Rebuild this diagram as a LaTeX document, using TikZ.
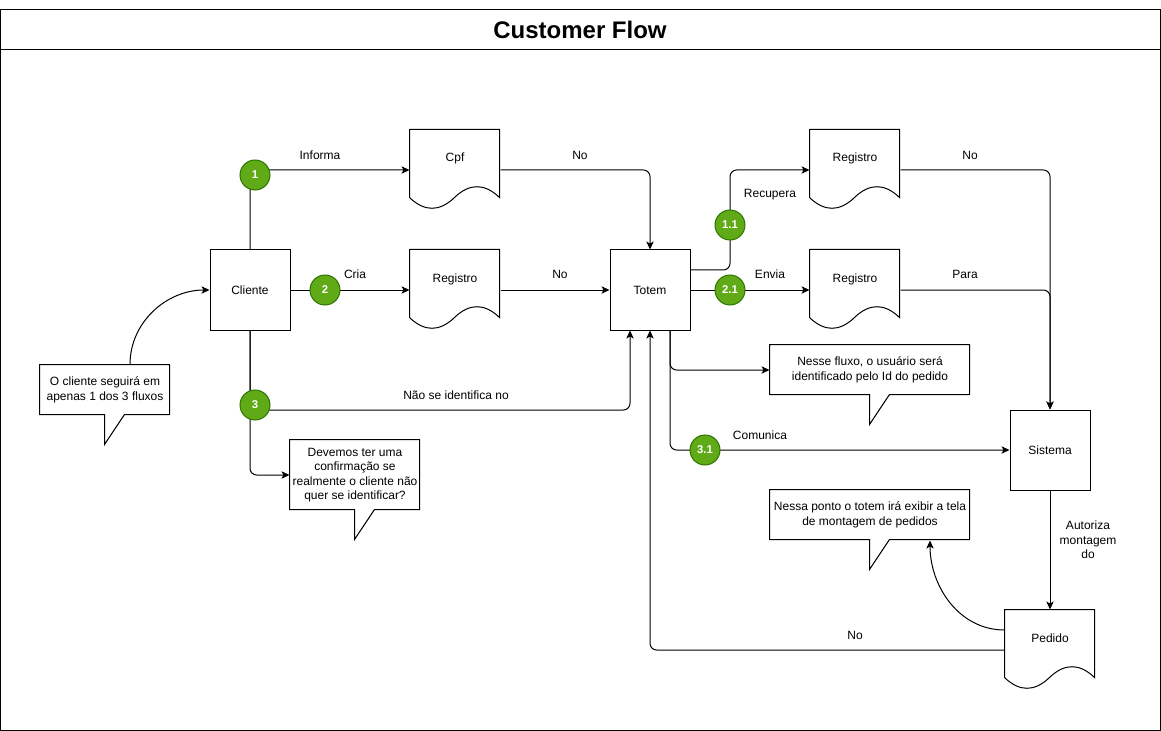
\documentclass[tikz,border=0pt]{standalone}
\usepackage{fontspec}
\setmainfont{Liberation Sans}
\usetikzlibrary{arrows.meta}
\definecolor{gfill}{HTML}{60A917}
\definecolor{gline}{HTML}{2D7600}
\newcommand\docpath[1]{\draw[shift={(#1.north west)}] (0,0) -- (90,0) -- (90,68) .. controls (75,53.6) and (60,53.6) .. (45,68) .. controls (30,82.4) and (15,82.4) .. (0,68) -- cycle;}
\newcommand\callpath[4]{\draw[shift={(#1.north west)}] (0,0) -- (#2,0) -- (#2,#3) -- ({#4+20},#3) -- (#4,{#3+30}) -- (#4,#3) -- (0,#3) -- cycle;}
\begin{document}
\begin{tikzpicture}[x=0.75pt,y=-0.75pt, line width=0.75pt,
  font=\fontsize{9}{10.9}\selectfont,
  box/.style={draw, minimum width=60pt, minimum height=60pt, inner sep=0pt},
  doc/.style={minimum width=67.5pt, minimum height=60pt, inner sep=0pt, text height=7pt, text depth=19pt},
  note/.style={align=center, inner sep=0pt},
  num/.style={circle, fill=gfill, draw=gline, text=white, font=\fontsize{8.5}{10}\selectfont\bfseries, minimum size=22.5pt, inner sep=0pt},
  lab/.style={inner sep=1pt},
  arr/.style={-{Stealth[length=6pt,width=5.5pt,inset=1.5pt]}, rounded corners=5pt}]
\useasboundingbox (0,0) rectangle (1161,731);
% frame
\draw (0.5,10) rectangle (1160,730);
\draw (0.5,50) -- (1160,50);
\node[font=\fontsize{18}{22}\selectfont\bfseries] (title) at (580,30) {Customer Flow};

% main boxes
\node[box] (cliente) at (250,290) {Cliente};
\node[box] (totem) at (650,290) {Totem};
\node[box] (sistema) at (1050,450) {Sistema};

% documents
\node[doc] (cpf) at (455,170) {Cpf};
\node[doc] (reg) at (455,290) {Registro};
\node[doc] (reg11) at (855,170) {Registro};
\node[doc] (reg21) at (855,290) {Registro};
\node[doc] (pedido) at (1050,650) {Pedido};
\docpath{cpf}
\docpath{reg}
\docpath{reg11}
\docpath{reg21}
\docpath{pedido}

% callouts
\node[note, minimum width=97.5pt, minimum height=37.5pt] (n1) at (105,390) {O cliente seguirá em\\apenas 1 dos 3 fluxos};
\node[note, minimum width=97.5pt, minimum height=52.5pt] (n2) at (355,475) {Devemos ter uma\\confirmação se\\realmente o cliente não\\quer se identificar?};
\node[note, minimum width=150pt, minimum height=37.5pt] (n3) at (870,370) {Nesse fluxo, o usuário será\\identificado pelo Id do pedido};
\node[note, minimum width=150pt, minimum height=37.5pt] (n4) at (870,515) {Nessa ponto o totem irá exibir a tela\\de montagem de pedidos};
\callpath{n1}{130}{50}{65}
\callpath{n2}{130}{70}{65}
\callpath{n3}{200}{50}{100}
\callpath{n4}{200}{50}{100}

% connectors
\draw[arr] (cliente.north) |- (cpf.west);
\draw[arr] (cliente.east) -- (reg.west);
\draw[arr] (cpf.east) -| (totem.north);
\draw[arr] (reg.east) -- (totem.west);
\draw[arr] (cliente.south) -- (250,410) -| ([xshift=-15pt]totem.south);
\draw[arr] (cliente.south) |- (n2.west);
\draw[arr] ([yshift=15pt]totem.east) -- (730,270) |- (reg11.west);
\draw[arr] (totem.east) -- (reg21.west);
\draw[arr] (reg11.east) -| (sistema.north);
\draw[arr] (reg21.east) -| (sistema.north);
\draw[arr] ([xshift=15pt]totem.south) |- (n3.west);
\draw[arr] ([xshift=15pt]totem.south) |- (sistema.west);
\draw[arr] (sistema.south) -- (pedido.north);
\draw[arr] (pedido.west) -| (totem.south);
\draw[arr] ([yshift=15pt]pedido.west) to[out=180,in=-90] ([xshift=45pt]n4.south);
\draw[arr] ([xshift=18.75pt]n1.north) to[out=90,in=180] (cliente.west);

% step markers
\node[num] (k1) at (255,175) {1};
\node[num] (k2) at (325,290) {2};
\node[num] (k3) at (255,405) {3};
\node[num] (k11) at (730,225) {1.1};
\node[num] (k21) at (730,290) {2.1};
\node[num] (k31) at (705,450) {3.1};

% edge labels
\node[lab] (l1) at (320,155) {Informa};
\node[lab] (l2) at (355,274) {Cria};
\node[lab] (l3) at (580,155) {No};
\node[lab] (l4) at (560,274) {No};
\node[lab] (l5) at (456,395) {Não se identifica no};
\node[lab] (l6) at (770,195) {Recupera};
\node[lab] (l7) at (770,274) {Envia};
\node[lab] (l8) at (970,155) {No};
\node[lab] (l9) at (965,274) {Para};
\node[lab] (l10) at (760,435) {Comunica};
\node[lab, align=center] (l11) at (1088,540) {Autoriza\\montagem\\do};
\node[lab] (l12) at (855,635) {No};
\end{tikzpicture}
\end{document}
